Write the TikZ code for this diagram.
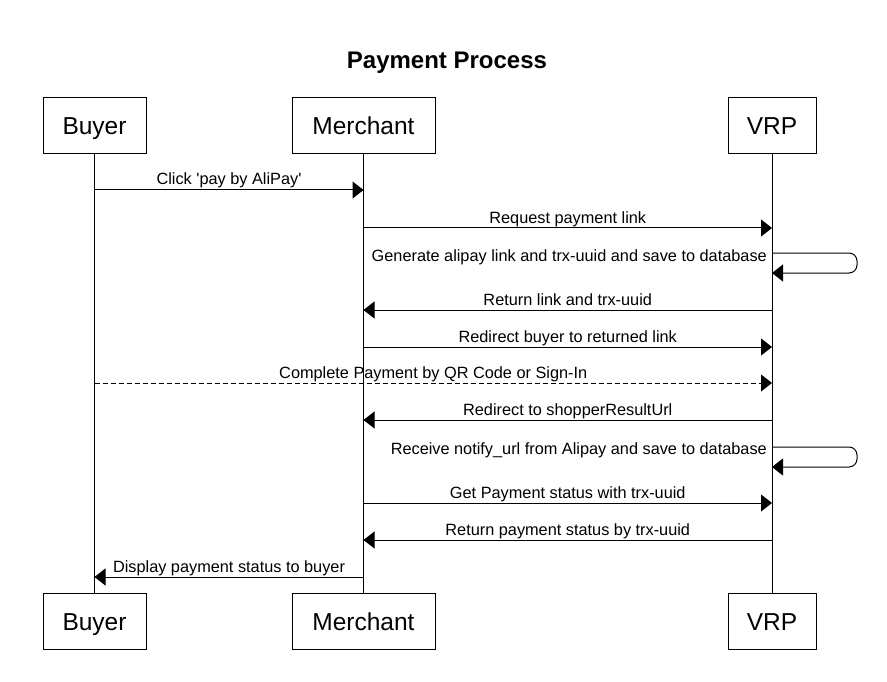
\documentclass[tikz,border=0pt]{standalone}
\usepackage{fontspec}
\setmainfont{Liberation Sans}[Ligatures=TeXOff]
\usetikzlibrary{arrows.meta}
\tikzset{
  actor/.style={draw=black, line width=1pt, fill=white, minimum height=56pt, inner sep=0pt,
    font=\fontsize{24.5}{28}\selectfont, text height=17.6pt, text depth=0pt},
  life/.style={draw=black, line width=1pt},
  msg/.style={draw=black, line width=1pt, -{Triangle[length=11pt,width=17pt]}},
  lbl/.style={font=\fontsize{16.3}{19}\selectfont, inner sep=0pt, anchor=base, yshift=5pt},
  slbl/.style={font=\fontsize{16.3}{19}\selectfont, inner sep=0pt, anchor=base east},
}
\begin{document}
\begin{tikzpicture}[x=1pt,y=-1pt]
\useasboundingbox (0,0) rectangle (887,682);
\node[font=\bfseries\fontsize{24}{28}\selectfont, anchor=base, inner sep=0pt] (title) at (447,69) {Payment Process};
% actors top
\node[actor, minimum width=103pt] (bt) at (94.5,126) {Buyer};
\node[actor, minimum width=143pt] (mt) at (363.5,126) {Merchant};
\node[actor, minimum width=88pt] (vt) at (772,126) {VRP};
% actors bottom
\node[actor, minimum width=103pt] (bb) at (94.5,621.5) {Buyer};
\node[actor, minimum width=143pt] (mb) at (363.5,621.5) {Merchant};
\node[actor, minimum width=88pt] (vb) at (772,621.5) {VRP};
% lifelines
\draw[life] (bt.south) -- (bb.north);
\draw[life] (mt.south) -- (mb.north);
\draw[life] (vt.south) -- (vb.north);
% message rows
\coordinate (r1) at (0,190);
\coordinate (r2) at (0,228);
\coordinate (r3a) at (0,253);
\coordinate (r3b) at (0,273);
\coordinate (r4) at (0,310);
\coordinate (r5) at (0,347);
\coordinate (r6) at (0,383);
\coordinate (r7) at (0,420);
\coordinate (r8a) at (0,447);
\coordinate (r8b) at (0,467);
\coordinate (r9) at (0,503);
\coordinate (r10) at (0,540);
\coordinate (r11) at (0,577);
% messages
\draw[msg] (bt |- r1) -- node[lbl] {Click 'pay by AliPay'} (mt |- r1);
\draw[msg] (mt |- r2) -- node[lbl] {Request payment link} (vt |- r2);
\draw[msg, rounded corners=8pt] (vt |- r3a) -- ++(85,0) -- ++(0,20) -- (vt |- r3b);
\node[slbl] (l3) at ([xshift=-5pt, yshift=-8.5pt]vt |- r3a) {Generate alipay link and trx-uuid and save to database};
\draw[msg] (vt |- r4) -- node[lbl] {Return link and trx-uuid} (mt |- r4);
\draw[msg] (mt |- r5) -- node[lbl] {Redirect buyer to returned link} (vt |- r5);
\draw[msg, dashed, dash pattern=on 5pt off 3pt] (bt |- r6) -- node[lbl] {Complete Payment by QR Code or Sign-In} (vt |- r6);
\draw[msg] (vt |- r7) -- node[lbl] {Redirect to shopperResultUrl} (mt |- r7);
\draw[msg, rounded corners=8pt] (vt |- r8a) -- ++(85,0) -- ++(0,20) -- (vt |- r8b);
\node[slbl] (l8) at ([xshift=-5pt, yshift=-7pt]vt |- r8a) {Receive notify\_url from Alipay and save to database};
\draw[msg] (mt |- r9) -- node[lbl] {Get Payment status with trx-uuid} (vt |- r9);
\draw[msg] (vt |- r10) -- node[lbl] {Return payment status by trx-uuid} (mt |- r10);
\draw[msg] (mt |- r11) -- node[lbl] {Display payment status to buyer} (bt |- r11);
\end{tikzpicture}
\end{document}
